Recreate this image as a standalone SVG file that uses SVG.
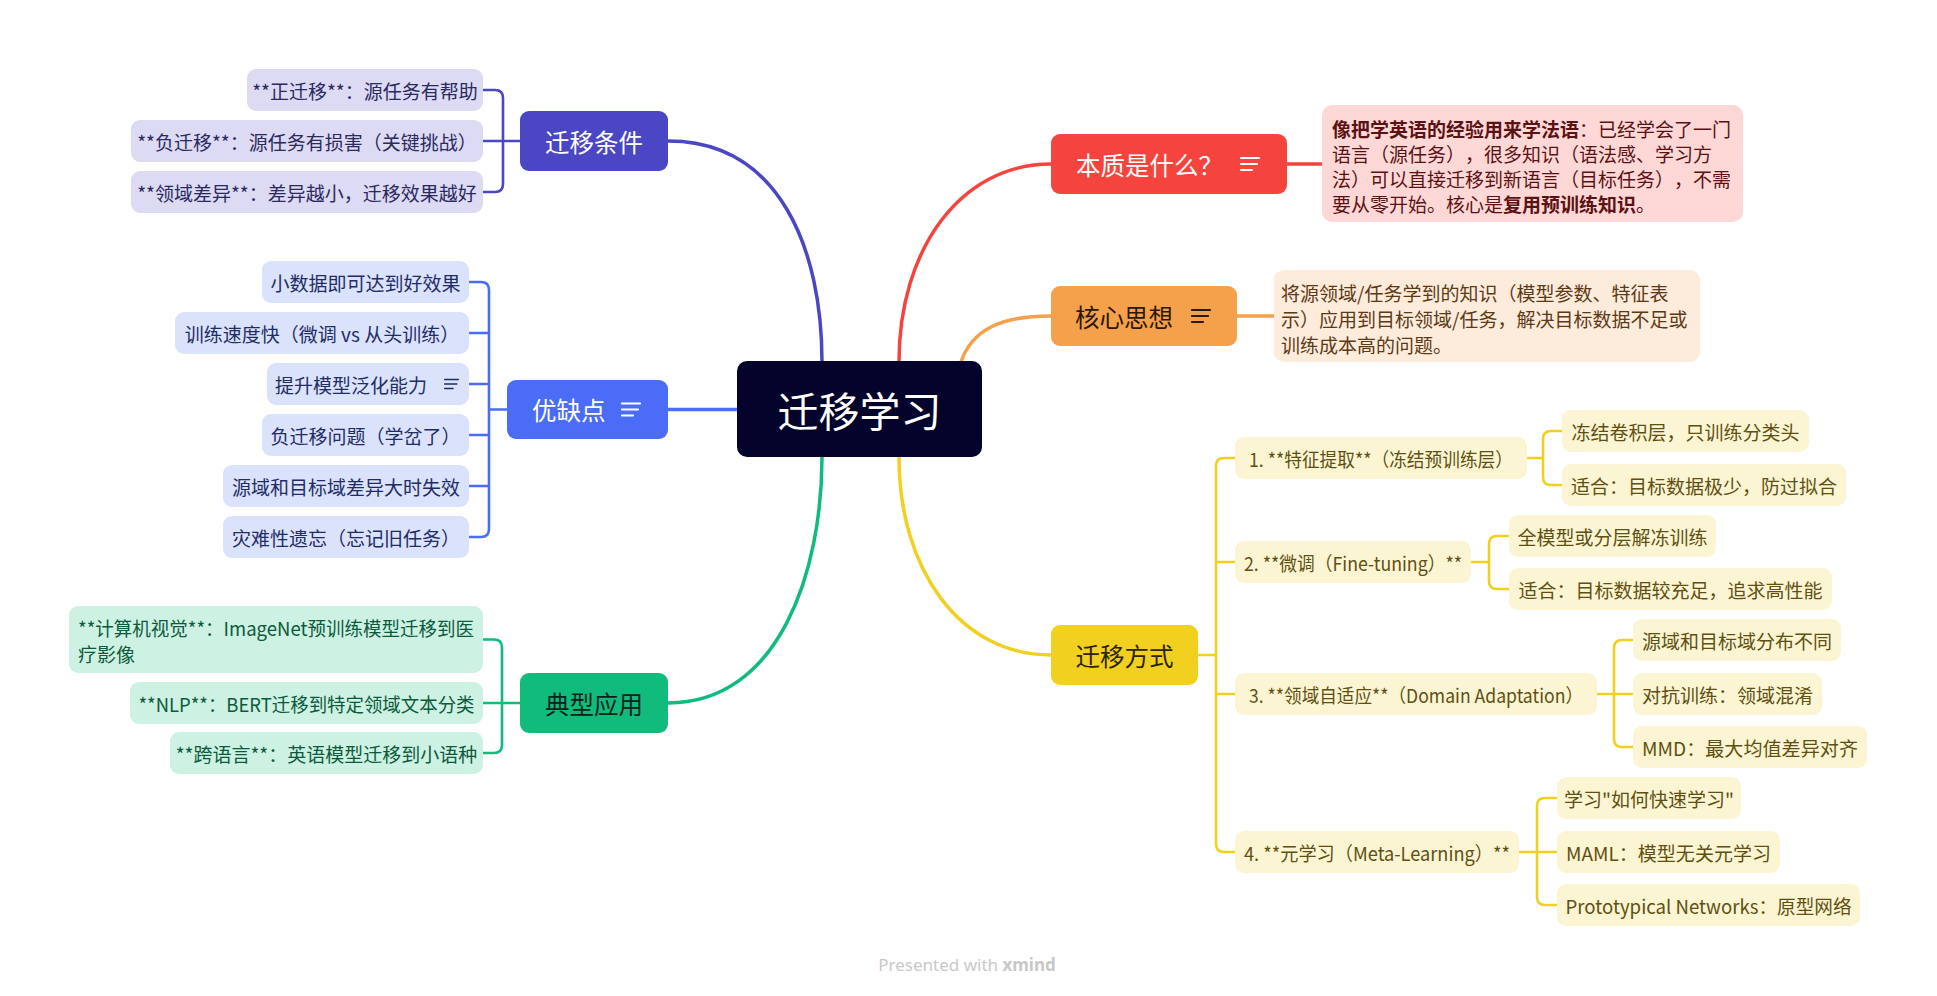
<svg xmlns="http://www.w3.org/2000/svg" width="1937" height="996" viewBox="0 0 1937 996">
<style>
text { font-family: "Noto Sans CJK SC", "Noto Sans", sans-serif; dominant-baseline: central; text-spacing-trim: space-all; }
.leaf { font-size: 19px; text-anchor: middle; }
.leafs { font-size: 19px; text-anchor: start; }
.note { font-size: 19px; }
.main { font-size: 24.5px; }
.mid { text-anchor: middle; }
.c { fill: none; stroke-linecap: round; stroke-linejoin: round; }
.cm { stroke-width: 3.5; }
.cs { stroke-width: 2.6; }
.pu { stroke: #4b46c3; } .bl { stroke: #4a6cf6; } .gr { stroke: #10bb7c; }
.rd { stroke: #f5443d; } .or { stroke: #f5a04b; } .ye { stroke: #f1d01f; }
.fpu { fill: #dcdbf3; } .tpu { fill: #2b2960; }
.fbl { fill: #dae2fc; } .tbl { fill: #1f2c66; }
.fgr { fill: #cdf1e3; } .tgr { fill: #0c5a3b; }
.fye { fill: #fcf5d3; } .tye { fill: #5f5012; }
</style>
<defs>
<g id="noteIcon" stroke-width="2.2" stroke-linecap="round" fill="none">
<path d="M1,-6 H19 M1,0 H17 M1,6 H12"/>
</g>
</defs>
<rect width="1937" height="996" fill="#ffffff"/>

<g id="connectors">
<path class="c cm pu" d="M822,380 L822,362 C822,250 780,141 668,141"/>
<path class="c cm bl" d="M760,409.5 L668,409.5"/>
<path class="c cm gr" d="M822,440 L822,457 C822,570 780,703 668,703"/>
<path class="c cm rd" d="M899,380 L899,362 C899,250 960,164 1051,164"/>
<path class="c cm or" d="M961,380 L961,362 C972,330 1000,316 1051,316"/>
<path class="c cm ye" d="M899,440 L899,457 C899,570 960,655 1051,655"/>
<path class="c cm rd" d="M1287,164 L1322,164"/>
<path class="c cm or" d="M1237,316 L1274,316"/>
<path class="c cs pu" d="M520,141 L503,141 M483,90 L495,90 Q503,90 503,98 L503,184 Q503,192 495,192 L483,192 M483,141 L503,141"/>
<path class="c cs bl" d="M507,409.5 L489,409.5 M469,282 L481,282 Q489,282 489,290 L489,529 Q489,537 481,537 L469,537 M469,333 L489,333 M469,384 L489,384 M469,435 L489,435 M469,486 L489,486"/>
<path class="c cs gr" d="M520,703 L502,703 M483,639.5 L494,639.5 Q502,639.5 502,647.5 L502,745 Q502,753 494,753 L483,753 M483,703 L502,703"/>
<path class="c cs ye" d="M1198,655 L1216,655 M1235,458 L1224,458 Q1216,458 1216,466 L1216,844 Q1216,852 1224,852 L1235,852 M1235,562 L1216,562 M1235,694 L1216,694"/>
<path class="c cs ye" d="M1527,458 L1543,458 M1562,431 L1551,431 Q1543,431 1543,439 L1543,477 Q1543,485 1551,485 L1562,485"/>
<path class="c cs ye" d="M1471,562 L1489,562 M1509,536 L1497,536 Q1489,536 1489,544 L1489,581 Q1489,589 1497,589 L1509,589"/>
<path class="c cs ye" d="M1597,694 L1614,694 M1633,640 L1622,640 Q1614,640 1614,648 L1614,739 Q1614,747 1622,747 L1633,747 M1633,694 L1614,694"/>
<path class="c cs ye" d="M1519,852 L1537,852 M1557,798 L1545,798 Q1537,798 1537,806 L1537,897 Q1537,905 1545,905 L1557,905 M1557,852 L1537,852"/>
</g>

<g id="center">
<rect x="737" y="361" width="245" height="96" rx="10" fill="#03032b"/>
<text class="mid" x="859.5" y="409" font-size="41" fill="#ffffff">迁移学习</text>
</g>

<g id="n-conditions">
<rect x="520" y="111" width="148" height="60" rx="9" fill="#4b46c3"/>
<text class="main mid" x="594" y="141" fill="#ffffff">迁移条件</text>
</g>
<g id="n-cond-1"><rect class="fpu" x="247" y="69" width="236" height="42" rx="9"/><text class="leaf tpu" x="365" y="90">**正迁移**：源任务有帮助</text></g>
<g id="n-cond-2"><rect class="fpu" x="131" y="120" width="352" height="42" rx="9"/><text class="leaf tpu" x="307" y="141">**负迁移**：源任务有损害（关键挑战）</text></g>
<g id="n-cond-3"><rect class="fpu" x="131" y="171" width="352" height="42" rx="9"/><text class="leaf tpu" x="307" y="192">**领域差异**：差异越小，迁移效果越好</text></g>

<g id="n-proscons">
<rect x="507" y="380" width="161" height="59" rx="9" fill="#4a6cf6"/>
<text class="main" x="532" y="409.5" fill="#ffffff">优缺点</text>
<use href="#noteIcon" x="621" y="409.5" stroke="#ffffff"/>
</g>
<g id="n-pc-1"><rect class="fbl" x="262" y="261" width="207" height="42" rx="9"/><text class="leaf tbl" x="365.5" y="282">小数据即可达到好效果</text></g>
<g id="n-pc-2"><rect class="fbl" x="175" y="312" width="294" height="42" rx="9"/><text class="leaf tbl" x="322" y="333">训练速度快（微调 vs 从头训练）</text></g>
<g id="n-pc-3"><rect class="fbl" x="267" y="363" width="202" height="42" rx="9"/><text class="leafs tbl" x="275" y="384">提升模型泛化能力</text>
<use href="#noteIcon" transform="translate(444,384) scale(0.75)" stroke="#1f2c66"/></g>
<g id="n-pc-4"><rect class="fbl" x="262" y="414" width="207" height="42" rx="9"/><text class="leaf tbl" x="365.5" y="435">负迁移问题（学岔了）</text></g>
<g id="n-pc-5"><rect class="fbl" x="223" y="465" width="246" height="42" rx="9"/><text class="leaf tbl" x="346" y="486">源域和目标域差异大时失效</text></g>
<g id="n-pc-6"><rect class="fbl" x="223" y="516" width="246" height="42" rx="9"/><text class="leaf tbl" x="346" y="537">灾难性遗忘（忘记旧任务）</text></g>

<g id="n-apps">
<rect x="520" y="673" width="148" height="60" rx="9" fill="#10bb7c"/>
<text class="main mid" x="594" y="703" fill="#07231a">典型应用</text>
</g>
<g id="n-app-1"><rect class="fgr" x="69" y="606" width="414" height="67" rx="9"/>
<text class="note tgr" x="78" y="627" textLength="396" lengthAdjust="spacingAndGlyphs">**计算机视觉**：ImageNet预训练模型迁移到医</text>
<text class="note tgr" x="78" y="653">疗影像</text></g>
<g id="n-app-2"><rect class="fgr" x="130" y="682" width="353" height="42" rx="9"/><text class="leaf tgr" x="306.5" y="703" textLength="336" lengthAdjust="spacingAndGlyphs">**NLP**：BERT迁移到特定领域文本分类</text></g>
<g id="n-app-3"><rect class="fgr" x="170" y="732" width="313" height="42" rx="9"/><text class="leaf tgr" x="326.5" y="753">**跨语言**：英语模型迁移到小语种</text></g>

<g id="n-essence">
<rect x="1051" y="134" width="236" height="60" rx="9" fill="#f5443d"/>
<text class="main" x="1076" y="164" fill="#ffffff">本质是什么？</text>
<use href="#noteIcon" x="1240" y="164" stroke="#ffffff"/>
</g>
<g id="n-essence-note">
<rect x="1322" y="105" width="421" height="117" rx="10" fill="#fdd8d7"/>
<text class="note" x="1332" y="128" fill="#5c1212"><tspan font-weight="bold">像把学英语的经验用来学法语</tspan>：已经学会了一门</text>
<text class="note" x="1332" y="153" fill="#5c1212">语言（源任务），很多知识（语法感、学习方</text>
<text class="note" x="1332" y="178" fill="#5c1212">法）可以直接迁移到新语言（目标任务），不需</text>
<text class="note" x="1332" y="203" fill="#5c1212">要从零开始。核心是<tspan font-weight="bold">复用预训练知识</tspan>。</text>
</g>

<g id="n-core">
<rect x="1051" y="286" width="186" height="60" rx="9" fill="#f5a04b"/>
<text class="main" x="1075" y="316" fill="#2b1906">核心思想</text>
<use href="#noteIcon" x="1191" y="316" stroke="#2b1906"/>
</g>
<g id="n-core-note">
<rect x="1274" y="270" width="426" height="92" rx="10" fill="#fdebdc"/>
<text class="note" x="1281" y="292" fill="#5e3a14">将源领域/任务学到的知识（模型参数、特征表</text>
<text class="note" x="1281" y="318" fill="#5e3a14">示）应用到目标领域/任务，解决目标数据不足或</text>
<text class="note" x="1281" y="344" fill="#5e3a14">训练成本高的问题。</text>
</g>

<g id="n-methods">
<rect x="1051" y="625" width="147" height="60" rx="9" fill="#f1d01f"/>
<text class="main mid" x="1124.5" y="655" fill="#2b2405">迁移方式</text>
</g>
<g id="n-m1"><rect class="fye" x="1235" y="437" width="292" height="42" rx="9"/><text class="leaf tye" x="1381" y="458" textLength="264" lengthAdjust="spacingAndGlyphs">1. **特征提取**（冻结预训练层）</text></g>
<g id="n-m1a"><rect class="fye" x="1562" y="410" width="247" height="42" rx="9"/><text class="leaf tye" x="1685.5" y="431">冻结卷积层，只训练分类头</text></g>
<g id="n-m1b"><rect class="fye" x="1562" y="464" width="284" height="42" rx="9"/><text class="leaf tye" x="1704" y="485">适合：目标数据极少，防过拟合</text></g>
<g id="n-m2"><rect class="fye" x="1235" y="541" width="236" height="42" rx="9"/><text class="leaf tye" x="1353" y="562" textLength="218" lengthAdjust="spacingAndGlyphs">2. **微调（Fine-tuning）**</text></g>
<g id="n-m2a"><rect class="fye" x="1509" y="515" width="207" height="42" rx="9"/><text class="leaf tye" x="1612.5" y="536">全模型或分层解冻训练</text></g>
<g id="n-m2b"><rect class="fye" x="1509" y="568" width="323" height="42" rx="9"/><text class="leaf tye" x="1670.5" y="589">适合：目标数据较充足，追求高性能</text></g>
<g id="n-m3"><rect class="fye" x="1235" y="673" width="362" height="42" rx="9"/><text class="leaf tye" x="1416" y="694" textLength="334" lengthAdjust="spacingAndGlyphs">3. **领域自适应**（Domain Adaptation）</text></g>
<g id="n-m3a"><rect class="fye" x="1633" y="619" width="208" height="42" rx="9"/><text class="leaf tye" x="1737" y="640">源域和目标域分布不同</text></g>
<g id="n-m3b"><rect class="fye" x="1633" y="673" width="189" height="42" rx="9"/><text class="leaf tye" x="1727.5" y="694">对抗训练：领域混淆</text></g>
<g id="n-m3c"><rect class="fye" x="1633" y="726" width="234" height="42" rx="9"/><text class="leaf tye" x="1750" y="747" textLength="216" lengthAdjust="spacingAndGlyphs">MMD：最大均值差异对齐</text></g>
<g id="n-m4"><rect class="fye" x="1235" y="831" width="284" height="42" rx="9"/><text class="leaf tye" x="1377" y="852" textLength="266" lengthAdjust="spacingAndGlyphs">4. **元学习（Meta-Learning）**</text></g>
<g id="n-m4a"><rect class="fye" x="1557" y="777" width="184" height="42" rx="9"/><text class="leaf tye" x="1649" y="798">学习"如何快速学习"</text></g>
<g id="n-m4b"><rect class="fye" x="1557" y="831" width="223" height="42" rx="9"/><text class="leaf tye" x="1668.5" y="852" textLength="205" lengthAdjust="spacingAndGlyphs">MAML：模型无关元学习</text></g>
<g id="n-m4c"><rect class="fye" x="1557" y="884" width="303" height="42" rx="9"/><text class="leaf tye" x="1708.5" y="905" textLength="286" lengthAdjust="spacingAndGlyphs">Prototypical Networks：原型网络</text></g>

<text x="967" y="964" text-anchor="middle" font-size="17" fill="#c8c8c8" style="font-family: 'Noto Sans', sans-serif">Presented with <tspan font-weight="bold">xmind</tspan></text>
</svg>
